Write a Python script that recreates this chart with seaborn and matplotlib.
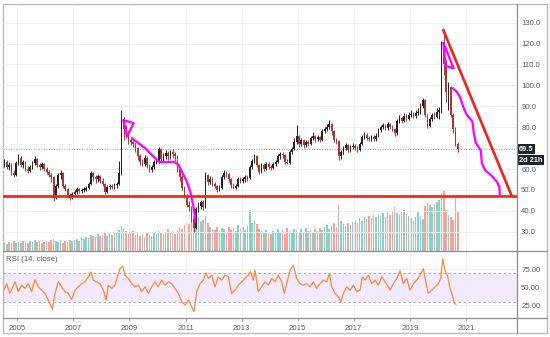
import numpy as np
import matplotlib
matplotlib.use("Agg")
import matplotlib.pyplot as plt
import matplotlib.transforms as mtransforms
from matplotlib.lines import Line2D
from matplotlib.patches import Rectangle
import seaborn as sns

# ---------------- data ----------------
# monthly candles, Jul 2004 .. Sep 2020
start_year, start_month = 2004, 7
first_open = 62.0
close = [
    63.5, 61, 62, 58, 57, 63,
    65.5, 62, 63.5, 60, 59, 61, 63, 65, 62, 61, 62.5, 60,
    58.5, 57, 56, 46, 52, 57, 58, 52, 50.5, 47.5, 46, 48,
    49, 50.5, 49.5, 50, 50, 51, 53, 58, 56, 55, 56.5, 54.5,
    53, 49, 51.5, 52, 51.5, 52.5, 53, 58, 84, 79, 77, 74,
    73, 72, 70, 66, 63.5, 62.5, 65.5, 62, 59.5, 61, 63.5, 64,
    69.5, 65, 66, 67.5, 66, 68, 67, 66, 60, 56, 51, 47,
    43, 42, 36, 32, 41, 42.5, 44, 42, 57, 54, 55, 53,
    52, 50, 51, 56, 58, 57.5, 55, 52.5, 51, 52, 55, 54.5,
    55, 56, 55.5, 61, 64, 66, 62, 58.5, 62, 60, 62.5, 61,
    60.5, 62.5, 63.5, 66, 67, 66.5, 63.5, 63, 68, 69.5, 73, 76,
    72, 74, 71.5, 73, 72, 75, 76, 74.5, 75.5, 74, 78, 79,
    80, 81.5, 78, 74, 73.5, 66, 68, 70, 71.5, 69, 70.5, 71,
    70, 69, 72, 75.5, 76.5, 75, 74.5, 75.5, 74.5, 76, 78.5, 80,
    81, 79.5, 81.5, 80, 79, 77, 83, 84.5, 83, 85.5, 84, 86,
    86.5, 85.5, 87, 87.5, 90, 93, 86, 80.5, 84, 86, 85, 87.5,
    88, 118, 110, 97, 99, 86, 79, 72, 69.5,
]
high = [
    65, 64.5, 63.5, 63, 59.5, 64,
    67, 66, 64.5, 64, 61.5, 62, 64, 66, 65.5, 63, 63.5, 63,
    61, 59.5, 58, 56.5, 53, 58, 59.5, 58.5, 53, 51, 48.5, 49,
    50, 51.5, 51, 51, 51.5, 52, 54, 59, 58.5, 57, 57.5, 57,
    55.5, 53.5, 52.5, 53, 53, 53.5, 54, 64, 88, 85, 81, 78,
    75.5, 74.5, 73, 70.5, 67, 65, 66.5, 66, 62.5, 62, 64.5, 65,
    70.5, 70, 67.5, 69, 68.5, 69, 69.5, 68, 66.5, 61, 57, 52,
    48, 44.5, 42.5, 37, 42, 44, 45, 45, 58.5, 57.5, 56.5, 56,
    54, 52.5, 52.5, 57, 59.5, 59, 58, 55.5, 53.5, 53, 56, 56,
    56, 57, 57, 62, 65, 67, 66.5, 62.5, 63, 63, 63.5, 63.5,
    62, 63.5, 64.5, 67, 68, 68, 67, 65, 69, 70.5, 75, 81,
    76.5, 75, 74.5, 74, 74, 76, 77.5, 76.5, 76.5, 76, 79, 80,
    81.5, 83.5, 82, 78.5, 75, 74, 69, 71, 72.5, 72, 71.5, 72.5,
    72, 71, 73, 76.5, 77.5, 77, 76, 76.5, 76.5, 77, 79.5, 81,
    82, 81.5, 82.5, 82, 81, 79.5, 84, 86, 85.5, 87, 86.5, 87.5,
    88, 87.5, 88, 89, 91.5, 94, 93.5, 86.5, 85, 87, 87.5, 89,
    89.5, 121, 126.5, 112, 101.5, 99.5, 87, 80, 73,
]
low = [
    61, 60, 59.5, 57, 56, 56.5,
    62, 61, 60.5, 59, 58, 58.5, 60, 62, 61, 59.5, 60, 59,
    57.5, 56, 54, 44.5, 45.5, 51, 55, 51, 49.5, 46, 45, 45.5,
    47, 48, 48.5, 48.5, 49, 49.5, 50.5, 52.5, 54.5, 53.5, 54, 53.5,
    52, 48, 48.5, 50.5, 50.5, 50.5, 51, 52.5, 57, 74, 75, 72,
    71.5, 70.5, 68, 64.5, 62, 61.5, 61.5, 60.5, 58.5, 58.5, 60, 62.5,
    63, 64, 64, 65, 64.5, 65, 65.5, 64, 58.5, 54.5, 50, 46,
    42, 40, 34.5, 30, 31.5, 39.5, 41, 40.5, 41.5, 52.5, 53, 52,
    51, 49, 49.5, 50.5, 55, 56, 54, 51, 50.5, 50.5, 51.5, 53.5,
    53.5, 54, 54.5, 55, 60, 63, 61, 57.5, 58, 59, 59.5, 60,
    59.5, 60, 61.5, 63, 65, 65.5, 62.5, 62.5, 62.5, 67, 69, 72,
    70.5, 71, 70, 70.5, 71, 71.5, 74, 73, 73.5, 73, 73.5, 77,
    78, 79, 76.5, 73, 72, 64.5, 65, 67, 69, 68, 68, 69.5,
    69, 68, 68.5, 71.5, 74.5, 74, 73.5, 73.5, 73.5, 73.5, 75.5, 77.5,
    79, 78.5, 78.5, 79, 78, 76, 76.5, 82, 82, 82.5, 83, 83.5,
    85, 84.5, 84.5, 86, 86.5, 89, 85, 79.5, 80, 83, 84, 84.5,
    84, 87, 105, 92, 88, 85, 77, 71, 68,
]
volume = [
    8, 7, 9, 8, 10, 8,
    9, 8, 10, 9, 8, 10, 9, 11, 9, 10, 8, 9,
    10, 9, 11, 12, 10, 9, 11, 8, 10, 9, 11, 10,
    11, 12, 10, 13, 12, 14, 13, 16, 15, 14, 17, 15,
    16, 18, 15, 17, 16, 18, 19, 21, 25, 23, 20, 17,
    18, 20, 16, 19, 15, 17, 14, 18, 16, 15, 19, 17,
    20, 18, 17, 19, 22, 18, 20, 17, 21, 24, 22, 26,
    30, 27, 33, 36, 38, 34, 29, 31, 35, 28, 24, 22,
    21, 24, 20, 23, 22, 19, 24, 21, 23, 20, 26, 22,
    24, 21, 25, 41, 28, 30, 27, 22, 20, 18, 21, 19,
    17, 20, 18, 22, 19, 21, 17, 23, 20, 18, 22, 21,
    19, 22, 18, 23, 20, 21, 19, 22, 20, 23, 21, 24,
    26, 22, 25, 28, 24, 46, 30, 27, 25, 28, 26, 29,
    31, 28, 33, 30, 34, 32, 35, 33, 36, 34, 37, 35,
    38, 34, 39, 36, 40, 44, 38, 36, 39, 41, 37, 35,
    33, 30, 34, 39, 35, 32, 45, 48, 46, 44, 47, 49,
    51, 58, 61, 41, 36, 34, 31, 54, 40,
]

# RSI(14) readings (decimal year, value)
rsi_t = [
    2004.502, 2004.621, 2004.740, 2004.918, 2005.037, 2005.156, 2005.275, 2005.393,
    2005.512, 2005.631, 2005.750, 2005.869, 2005.988, 2006.107, 2006.249, 2006.344,
    2006.463, 2006.582, 2006.701, 2006.820, 2006.939, 2007.058, 2007.177, 2007.295,
    2007.414, 2007.533, 2007.628, 2007.711, 2007.830, 2007.949, 2008.068, 2008.163,
    2008.247, 2008.365, 2008.484, 2008.567, 2008.663, 2008.758, 2008.841, 2008.960,
    2009.079, 2009.198, 2009.317, 2009.436, 2009.555, 2009.673, 2009.792, 2009.911,
    2010.030, 2010.149, 2010.268, 2010.387, 2010.506, 2010.624, 2010.743, 2010.862,
    2010.981, 2011.100, 2011.219, 2011.302, 2011.397, 2011.516, 2011.635, 2011.729,
    2011.812, 2011.931, 2012.050, 2012.169, 2012.288, 2012.407, 2012.526, 2012.645,
    2012.764, 2012.883, 2013.002, 2013.121, 2013.240, 2013.323, 2013.418,
    2013.477, 2013.596, 2013.715, 2013.834, 2013.953, 2014.072, 2014.191, 2014.310,
    2014.428, 2014.524, 2014.607, 2014.726, 2014.845, 2014.964, 2015.083, 2015.202,
    2015.320, 2015.439, 2015.558, 2015.677, 2015.796, 2015.915, 2016.034, 2016.129,
    2016.212, 2016.331, 2016.450, 2016.545, 2016.628, 2016.747, 2016.866, 2016.985,
    2017.104, 2017.223, 2017.306, 2017.401, 2017.520, 2017.639, 2017.758, 2017.877,
    2017.996, 2018.115, 2018.233, 2018.293, 2018.412, 2018.531, 2018.650, 2018.768,
    2018.887, 2019.006, 2019.125, 2019.244, 2019.363, 2019.482, 2019.565, 2019.660,
    2019.779, 2019.898, 2020.017, 2020.100, 2020.171, 2020.255, 2020.350, 2020.433,
    2020.516, 2020.588, 2020.647,
]
rsi_v = [
    43.8, 55, 41.5, 57.6, 44, 53, 48.4, 55,
    44, 60.8, 50.7, 46, 41.5, 32.3, 19.4, 41.5,
    57.6, 50.7, 44, 41.5, 33, 46, 50.7, 55,
    57.6, 64.5, 71.4, 60, 57.6, 55, 46, 32.3,
    53, 48.4, 53, 64.5, 76, 79.2, 66.8, 62.2,
    55, 50.7, 53, 44, 50.7, 41.5, 50.7, 57.6,
    50.7, 60, 53, 57.6, 55, 48.4, 41.5, 30,
    25.4, 32.3, 23, 16.2, 44, 55, 60, 70,
    62.2, 66.8, 50.7, 64.5, 60, 66.8, 64.5, 41.5,
    46, 53, 57.6, 62.2, 66.8, 71.4, 60,
    73.7, 44, 50.7, 57.6, 53, 62.2, 57.6, 66.8,
    57.6, 41.5, 55, 73.7, 80.6, 62.2, 55, 53,
    55, 50.7, 57.6, 48.4, 55, 60, 57.6, 69,
    50.7, 41.5, 36.9, 30, 41.5, 50.7, 46, 53,
    44, 46, 64.5, 60, 66.8, 55, 60, 53,
    64.5, 57.6, 50.7, 46, 55, 62.2, 72.8, 55,
    62.2, 46, 55, 60, 66.8, 76, 57.6, 41.5,
    46, 50.7, 55, 62.2, 89.8, 73.7, 64.5, 48.4,
    39.2, 27.7, 26.3,
]

price_ticks = [30, 40, 50, 60, 70, 80, 90, 100, 110, 120, 130]
rsi_ticks = [25, 50, 75]
year_ticks = [2005, 2007, 2009, 2011, 2013, 2015, 2017, 2019, 2021]
last_price = 69.5
countdown = "2d 21h"

# drawings on the chart
support_level = 47.2
trend_t = [2020.19, 2022.63]
trend_p = [126.5, 47.2]
tri1_t = [2008.79, 2009.15, 2008.91, 2008.79]
tri1_p = [83.4, 81.9, 75.5, 83.4]
path1_t = [2009.09, 2009.33, 2009.56, 2009.80, 2010.04, 2010.28, 2010.58, 2010.76,
           2010.87, 2011.05, 2011.17, 2011.27, 2011.33, 2011.35]
path1_p = [74.7, 72.3, 69.9, 66.7, 63.5, 63.2, 63.5, 61.9,
           58.7, 53.9, 49.1, 42.8, 38.0, 34.8]
tri2_t = [2020.20, 2020.56, 2020.27, 2020.20]
tri2_p = [120.3, 108.1, 109.3, 120.3]
path2_t = [2020.53, 2020.67, 2020.79, 2020.91, 2021.03, 2021.15, 2021.23, 2021.28,
           2021.35, 2021.44, 2021.53, 2021.57, 2021.68, 2021.92, 2022.10, 2022.19, 2022.21]
path2_p = [98.6, 97.0, 94.3, 89.5, 85.8, 84.1, 82.6, 77.1,
           72.6, 70.7, 68.8, 62.7, 59.5, 56.7, 53.9, 51.5, 47.6]

# ---------------- style ----------------
sns.set_theme(style="white")
plt.rcParams["font.family"] = ["Liberation Sans", "DejaVu Sans"]

W, H = 550, 337
fig = plt.figure(figsize=(W / 100, H / 100), dpi=100)
fig.patch.set_facecolor("white")


def rect(x0, y0, x1, y1):
    return [x0 / W, 1 - y1 / H, (x1 - x0) / W, (y1 - y0) / H]


main_rect = rect(3, 4, 517, 251)
rsi_rect = rect(3, 251, 517, 318)
xlim = (2004.49, 2022.82)

grid_c = "#eceef2"
label_c = "#555a63"
fs = 5.6

# volume pane underneath the price pane
vax = fig.add_axes(main_rect)
vax.set_xlim(*xlim)
vax.set_ylim(0, 247)
vax.axis("off")

ax = fig.add_axes(main_rect, sharex=vax)
ax.patch.set_alpha(0)
ax.set_zorder(vax.get_zorder() + 1)

rax = fig.add_axes(rsi_rect, sharex=vax)

n = len(close)
t = np.array([start_year + (start_month - 1 + i + 0.5) / 12 for i in range(n)])
c = np.array(close, dtype=float)
o = np.concatenate([[first_open], c[:-1]])
hi = np.array(high, dtype=float)
lo = np.array(low, dtype=float)
up = c >= o

# volume bars
vcol = np.where(up, "#86d1c8", "#f2a39b")
vax.bar(t, volume, width=0.055, color=vcol, linewidth=0)

# candles
ccol = np.where(up, "#222222", "#b0352f")
ax.vlines(t, lo, hi, colors=ccol, linewidth=0.7, zorder=3)
body_lo = np.minimum(o, c)
body_h = np.maximum(np.abs(c - o), 0.4)
ax.bar(t, body_h, bottom=body_lo, width=0.055, color=ccol, linewidth=0, zorder=3)

# last price line and labels (the price tag sits over the 70.0 scale mark)
ax.axhline(last_price, color="#9aa0a6", lw=0.7, ls=(0, (1, 1.6)), zorder=2)
blend = mtransforms.blended_transform_factory(ax.transAxes, ax.transData)
box = dict(boxstyle="square,pad=0.18", fc="#1f232b", ec="none")
ax.text(1.004, last_price, f"{last_price:.1f}", transform=blend, ha="left", va="center",
        fontsize=5.3, color="white", fontweight="bold", zorder=10, clip_on=False,
        bbox=box)
ax.annotate(countdown, xy=(1.004, last_price), xycoords=blend, xytext=(0, -8),
            textcoords="offset points", ha="left", va="center", fontsize=5.3,
            color="white", fontweight="bold", annotation_clip=False, zorder=10,
            bbox=box)

# drawings
red = "#f2221b"
mag = "#ff00ff"
ax.axhline(support_level, color=red, lw=1.9, zorder=5)
ax.plot(trend_t, trend_p, color=red, lw=1.9, zorder=5, solid_capstyle="round")
for tt, pp in [(tri1_t, tri1_p), (path1_t, path1_p), (tri2_t, tri2_p), (path2_t, path2_p)]:
    ax.plot(tt, pp, color=mag, lw=1.6, zorder=6, solid_joinstyle="round",
            solid_capstyle="round")

ax.set_xlim(*xlim)
ax.set_ylim(20.8, 138.9)
ax.set_yticks(price_ticks)
ax.set_yticklabels(["" if abs(v - last_price) < 3 else f"{v:.1f}" for v in price_ticks])
ax.yaxis.tick_right()
ax.set_xticks(year_ticks)
ax.tick_params(axis="y", length=0, pad=3, labelsize=fs, labelcolor=label_c)
ax.tick_params(axis="x", length=0, labelbottom=False)
ax.grid(True, color=grid_c, lw=0.6, zorder=0)
for s in ax.spines.values():
    s.set_visible(False)

# RSI pane
rax.set_facecolor("white")
rax.axhspan(30, 70, color="#f3e9fc", lw=0, zorder=0)
rax.axhline(70, color="#aaa3b3", lw=0.6, ls=(0, (3, 3)), zorder=1)
rax.axhline(30, color="#aaa3b3", lw=0.6, ls=(0, (3, 3)), zorder=1)
sns.lineplot(x=rsi_t, y=rsi_v, ax=rax, color="#f58a3c", lw=0.9, zorder=3)
rax.set_xlim(*xlim)
rax.set_ylim(7.4, 100.4)
rax.set_yticks(rsi_ticks)
rax.set_yticklabels([f"{v:.2f}" for v in rsi_ticks])
rax.yaxis.tick_right()
rax.set_xticks(year_ticks)
rax.set_xticklabels([str(y) for y in year_ticks])
rax.tick_params(axis="y", length=0, pad=3, labelsize=fs, labelcolor=label_c)
rax.tick_params(axis="x", length=2, width=0.6, color="#8a8a8a", pad=3,
                labelsize=fs, labelcolor=label_c, bottom=True)
rax.grid(True, color=grid_c, lw=0.6, zorder=0)
rax.set_axisbelow(True)
rax.set_xlabel("")
rax.set_ylabel("")
for s in rax.spines.values():
    s.set_visible(False)
rax.text(0.005, 0.87, "RSI (14, close)", transform=rax.transAxes, fontsize=fs,
         color=label_c, ha="left", va="center")

# frame: outer border, pane separators and price-scale divider
sep_c = "#8c8c8c"
fig.add_artist(Rectangle((3 / W, 1 - 333 / H), 544 / W, 329 / H, transform=fig.transFigure,
                         fill=False, ec="#b9b9b9", lw=1.0))
fig.add_artist(Line2D([3 / W, 547 / W], [1 - 251 / H] * 2, transform=fig.transFigure,
                      color=sep_c, lw=0.9))
fig.add_artist(Line2D([3 / W, 547 / W], [1 - 318 / H] * 2, transform=fig.transFigure,
                      color=sep_c, lw=0.9))
fig.add_artist(Line2D([517 / W] * 2, [1 - 4 / H, 1 - 333 / H], transform=fig.transFigure,
                      color=sep_c, lw=0.9))

fig.savefig("out.png", dpi=100, facecolor="white")
